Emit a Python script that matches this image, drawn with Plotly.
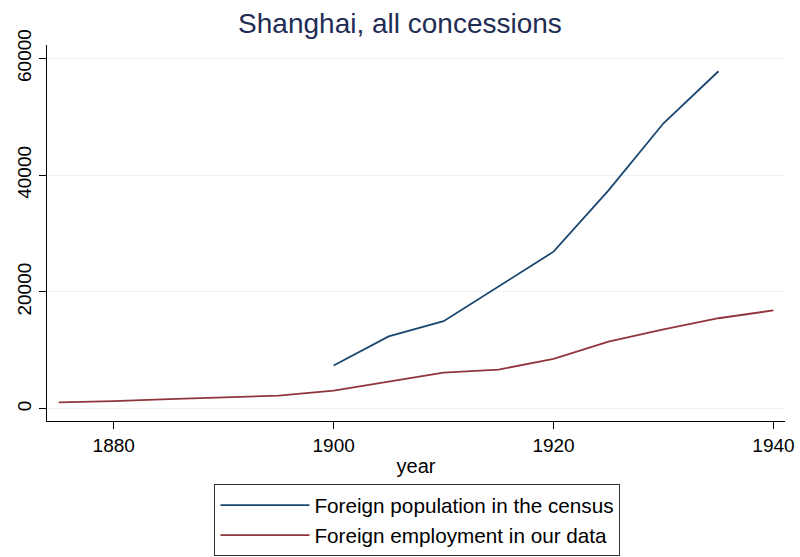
import plotly.graph_objects as go

# Data
census_years = [1900, 1905, 1910, 1915, 1920, 1925, 1930, 1935]
census_pop = [7400, 12400, 15000, 20900, 26900, 37400, 48900, 57800]

emp_years = [1875, 1880, 1885, 1890, 1895, 1900, 1905, 1910, 1915, 1920, 1925, 1930, 1935, 1940]
emp_values = [1100, 1300, 1650, 1950, 2250, 3100, 4650, 6200, 6700, 8550, 11500, 13600, 15500, 16850]

x_ticks = [1880, 1900, 1920, 1940]
y_ticks = [0, 20000, 40000, 60000]
y_tick_labels = ["0", "20000", "40000", "60000"]

navy = "#1a476f"
maroon = "#90353b"
font_family = "Liberation Sans, Arial, sans-serif"

fig = go.Figure()
fig.add_trace(go.Scatter(x=census_years, y=census_pop, mode="lines",
                         line=dict(color=navy, width=1.8),
                         name="Foreign population in the census"))
fig.add_trace(go.Scatter(x=emp_years, y=emp_values, mode="lines",
                         line=dict(color=maroon, width=1.8),
                         name="Foreign employment in our data"))

fig.update_layout(
    width=800, height=557,
    paper_bgcolor="white", plot_bgcolor="white",
    margin=dict(l=47, r=15, t=45, b=136, autoexpand=False),
    font=dict(family=font_family, size=19, color="black"),
    title=dict(text="Shanghai, all concessions", x=0.5, xanchor="center",
               y=1 - 23 / 557, yanchor="middle", yref="container",
               font=dict(size=28, color="#1f2d55", family=font_family)),
    showlegend=True,
    legend=dict(x=0.502, xanchor="center", y=-0.168, yanchor="top",
                bordercolor="#333333", borderwidth=1, bgcolor="white",
                itemwidth=89,
                font=dict(size=20.7, family=font_family), tracegroupgap=0),
)

fig.update_xaxes(range=[1873.93, 1941.05], tickvals=x_ticks, ticks="outside",
                 ticklen=7, tickcolor="black", showline=True, linecolor="black",
                 linewidth=1, showgrid=False, zeroline=False, mirror=False,
                 automargin=False, tickfont=dict(size=19),
                 title=dict(text="year", font=dict(size=20), standoff=4))
fig.update_yaxes(range=[-2100, 62300], tickvals=y_ticks, ticktext=y_tick_labels,
                 ticks="outside", ticklen=7, tickcolor="black", showline=True,
                 linecolor="black", linewidth=1, showgrid=True,
                 gridcolor="#eaf2f3", gridwidth=1, zeroline=False,
                 automargin=False, tickangle=-90, tickfont=dict(size=19))

fig.write_html("out.html",
               config={"displayModeBar": False},
               post_script="document.body.style.margin='0';document.body.style.overflow='hidden';")
